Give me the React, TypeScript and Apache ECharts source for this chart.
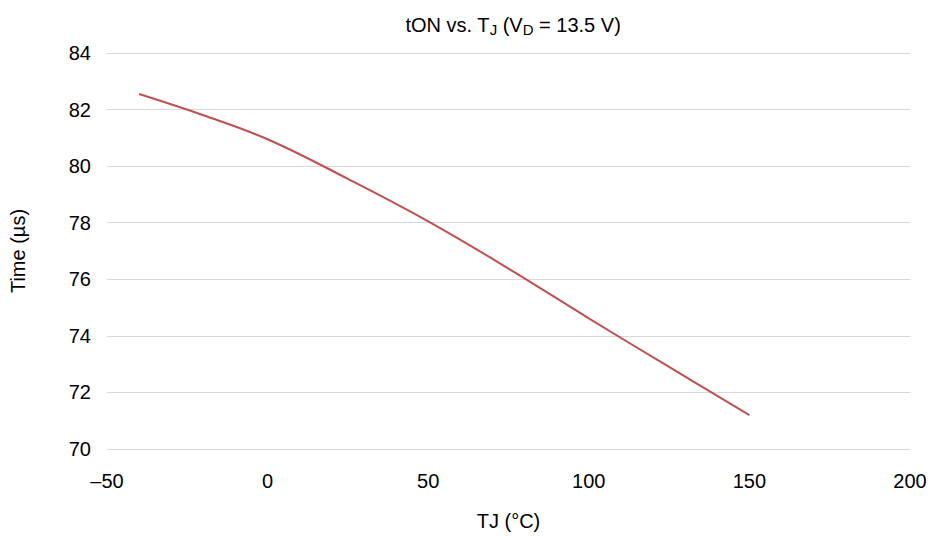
import React, { useEffect, useRef } from "react";
import * as echarts from "echarts";

const tempC = [-40, -20, 0, 25, 50, 75, 100, 125, 150];
const timeUs = [82.55, 81.8, 80.95, 79.55, 78.05, 76.38, 74.62, 72.9, 71.2];
const xTicks = { min: -50, max: 200, interval: 50 };
const yTicks = { min: 70, max: 84, interval: 2 };

const FONT = "Liberation Sans, Arial, Helvetica, sans-serif";

export default function App() {
  const ref = useRef<HTMLDivElement>(null);
  useEffect(() => {
    if (!ref.current) return;
    const chart = echarts.init(ref.current, null, { renderer: "svg" });
    chart.setOption({
      animation: false,
      backgroundColor: "#ffffff",
      title: {
        text: "tON vs. T{sub|J} (V{sub|D} = 13.5 V)",
        left: 508,
        textAlign: "center",
        top: 8,
        textStyle: {
          fontFamily: FONT,
          fontSize: 20,
          fontWeight: "normal",
          color: "#000",
          rich: {
            sub: { fontFamily: FONT, fontSize: 15, color: "#000", padding: [9, 0, 0, 0] },
          },
        },
      },
      grid: { left: 102, right: 27, top: 53, bottom: 85, containLabel: false },
      xAxis: {
        type: "value",
        min: xTicks.min,
        max: xTicks.max,
        interval: xTicks.interval,
        name: "TJ (°C)",
        nameLocation: "middle",
        nameGap: 62,
        nameTextStyle: { fontFamily: FONT, fontSize: 20, color: "#000" },
        axisLine: { show: false },
        axisTick: { show: false },
        splitLine: { show: false },
        axisLabel: {
          fontFamily: FONT,
          fontSize: 20,
          color: "#000",
          margin: 22,
          formatter: (v: number) => (v < 0 ? "\u2013" + Math.abs(v) : String(v)),
        },
      },
      yAxis: {
        type: "value",
        min: yTicks.min,
        max: yTicks.max,
        interval: yTicks.interval,
        name: "Time (\u00b5s)",
        nameLocation: "middle",
        nameGap: 79,
        nameTextStyle: { fontFamily: FONT, fontSize: 20, color: "#000" },
        axisLine: { show: false },
        axisTick: { show: false },
        splitLine: { show: true, lineStyle: { color: "#d9d9d9", width: 1 } },
        axisLabel: { fontFamily: FONT, fontSize: 20, color: "#000", margin: 16 },
      },
      series: [
        {
          type: "line",
          data: tempC.map((t, i) => [t, timeUs[i]]),
          smooth: 0.4,
          showSymbol: false,
          lineStyle: { color: "#c0504d", width: 2 },
        },
      ],
    });
    return () => chart.dispose();
  }, []);
  return <div ref={ref} style={{ width: 937, height: 536, position: "absolute", left: 0, top: 0 }} />;
}
